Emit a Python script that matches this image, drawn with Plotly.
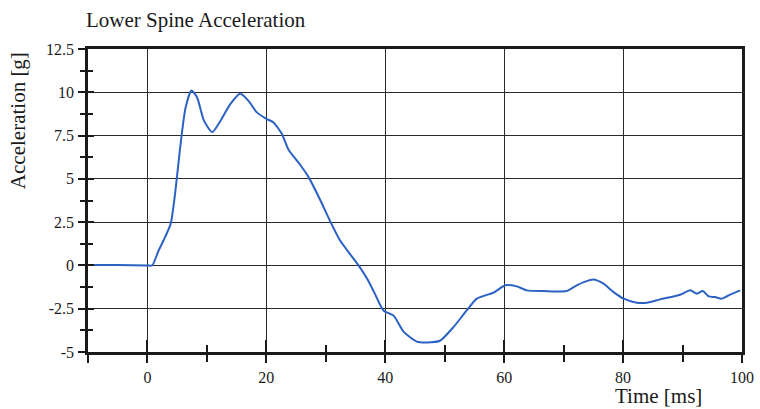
import plotly.graph_objects as go

# time [ms] and lower spine acceleration [g]
time_ms = [-10, -5, 0, 0.8, 1.8, 2.7, 3.9, 4.7, 5.5, 6.4, 7.4, 8.35, 9.5, 10.9,
           12.3, 13.9, 15.6, 17.0, 18.4, 20.1, 21.2, 22.6, 23.7, 25.5, 27.1,
           29.1, 30.8, 32.4, 34.2, 35.5, 37.0, 38.2, 39.7, 41.4, 43.1, 45.3,
           47.0, 49.2, 51.5, 53.7, 55.4, 58.2, 60.2, 62.1, 63.8, 66.6, 70.5,
           72.2, 73.5, 75.0, 76.7, 78.4, 80.1, 82.3, 84.0, 86.2, 89.6, 91.3,
           92.4, 93.4, 94.4, 95.5, 96.6, 98.0, 99.7]
accel_g = [0.02, 0.02, 0.0, 0.0, 0.8, 1.44, 2.4, 4.3, 6.8, 9.1, 10.1, 9.7, 8.36,
           7.7, 8.36, 9.3, 9.93, 9.5, 8.84, 8.45, 8.26, 7.6, 6.7, 5.9, 5.1,
           3.75, 2.5, 1.44, 0.6, 0.0, -0.8, -1.6, -2.6, -2.9, -3.84, -4.4,
           -4.45, -4.35, -3.55, -2.6, -1.92, -1.57, -1.15, -1.21, -1.44,
           -1.48, -1.48, -1.15, -0.95, -0.81, -1.05, -1.54, -1.92, -2.15,
           -2.15, -1.96, -1.69, -1.44, -1.63, -1.48, -1.79, -1.83, -1.92,
           -1.69, -1.44]

y_ticks = [-5, -2.5, 0, 2.5, 5, 7.5, 10, 12.5]
y_labels = ["-5", "-2.5", "0", "2.5", "5", "7.5", "10", "12.5"]
y_minor = [-3.75, -1.25, 1.25, 3.75, 6.25, 8.75, 11.25]
x_ticks = [-10, 0, 20, 40, 60, 80, 100]
x_labels = ["", "0", "20", "40", "60", "80", "100"]
x_minor = [10, 30, 50, 70, 90]

serif = "Liberation Serif"
ink = "#1a1a1a"

fig = go.Figure()
fig.add_trace(go.Scatter(x=time_ms, y=accel_g, mode="lines",
                         line=dict(color="#2b62c4", width=2, shape="spline", smoothing=0.6),
                         showlegend=False))
# invisible trace so the overlay axes (inner tick marks) get drawn
fig.add_trace(go.Scatter(x=[None], y=[None], xaxis="x2", yaxis="y2", showlegend=False))

fig.update_layout(
    width=760, height=409,
    margin=dict(l=88, r=18, t=49, b=57),
    paper_bgcolor="white", plot_bgcolor="white",
    font=dict(family=serif, color=ink, size=16),
    title=dict(text="Lower Spine Acceleration", x=86 / 760, xanchor="left",
               y=1 - 20 / 409, yanchor="middle", font=dict(size=21, family=serif, color=ink)),
    xaxis=dict(range=[-10, 100], tickvals=x_ticks, ticktext=x_labels,
               ticks="outside", ticklen=8, tickwidth=2, tickcolor=ink,
               minor=dict(tickvals=x_minor, ticks="outside", ticklen=7, tickwidth=2, tickcolor=ink),
               showgrid=True, gridcolor="#2a2a2a", gridwidth=1.2,
               showline=True, linecolor=ink, linewidth=2.5, mirror=True,
               zeroline=False, ticklabelstandoff=1, automargin=False),
    yaxis=dict(range=[-5, 12.5], tickvals=y_ticks, ticktext=y_labels,
               ticks="outside", ticklen=7, tickwidth=2, tickcolor=ink,
               minor=dict(tickvals=y_minor, ticks="outside", ticklen=5, tickwidth=2, tickcolor=ink),
               showgrid=True, gridcolor="#2a2a2a", gridwidth=1.2,
               showline=True, linecolor=ink, linewidth=2.5, mirror=True,
               zeroline=False, ticklabelstandoff=1, automargin=False),
    xaxis2=dict(range=[-10, 100], overlaying="x", anchor="y", side="bottom",
                tickvals=[0, 20, 40, 60, 80], showticklabels=False,
                ticks="inside", ticklen=12, tickwidth=2, tickcolor=ink,
                minor=dict(tickvals=x_minor, ticks="inside", ticklen=7, tickwidth=2, tickcolor=ink),
                showgrid=False, zeroline=False, showline=False, automargin=False),
    yaxis2=dict(range=[-5, 12.5], overlaying="y", anchor="x", side="left",
                tickvals=y_ticks[1:-1], showticklabels=False,
                ticks="inside", ticklen=6, tickwidth=2, tickcolor=ink,
                minor=dict(tickvals=y_minor, ticks="inside", ticklen=5, tickwidth=2, tickcolor=ink),
                showgrid=False, zeroline=False, showline=False, automargin=False),
    annotations=[
        dict(text="Acceleration [g]", xref="paper", yref="paper", x=-0.107, y=0.762,
             xanchor="center", yanchor="middle",
             textangle=-90, showarrow=False, font=dict(size=21, family=serif, color=ink)),
        dict(text="Time [ms]", xref="paper", yref="paper", x=0.872, y=-0.146,
             xanchor="center", yanchor="middle",
             showarrow=False, font=dict(size=21, family=serif, color=ink)),
    ],
)

# drop the page's default body margin so the figure sits at the window's corner
fig.write_html("out.html", config={"displayModeBar": False},
               post_script="document.body.style.margin='0';")
